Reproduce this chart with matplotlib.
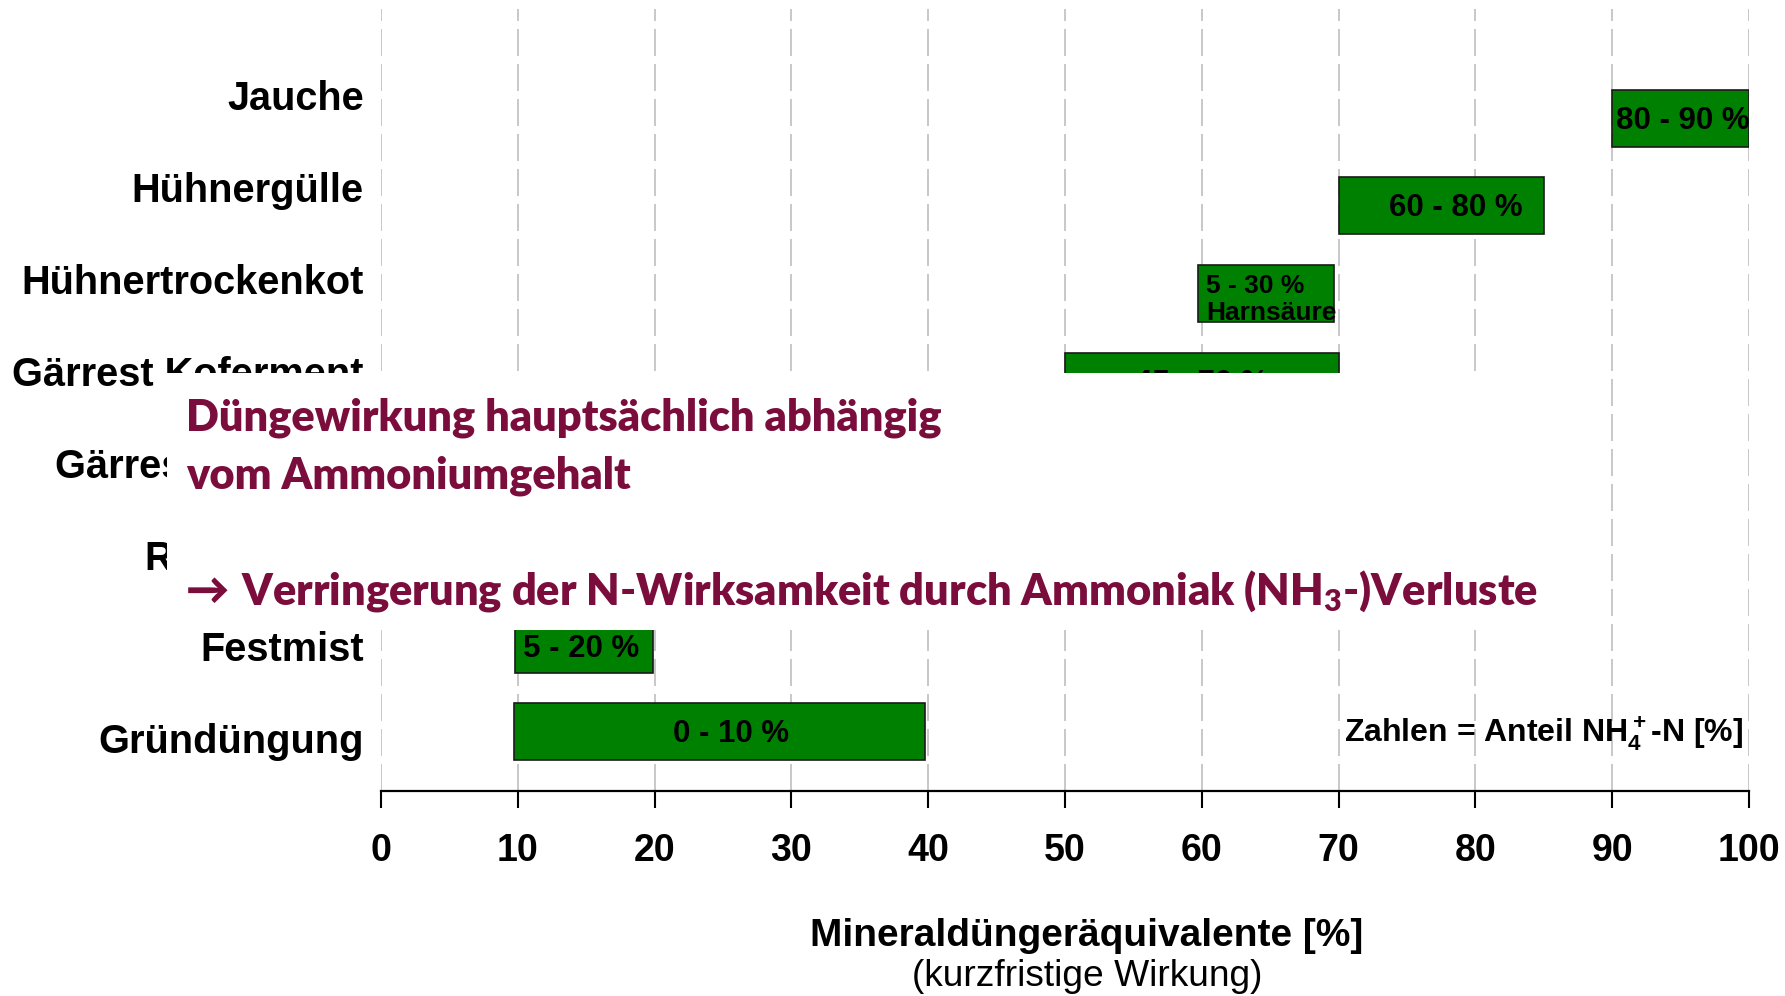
import matplotlib.pyplot as plt
import numpy as np
from matplotlib.patches import Rectangle

plt.rcParams["font.family"] = ["Liberation Sans", "DejaVu Sans"]
plt.rcParams["mathtext.default"] = "regular"

# categories top to bottom
categories = [
    "Jauche",
    "Hühnergülle",
    "Hühnertrockenkot",
    "Gärrest Koferment",
    "Gärrest NawaRo",
    "Rindergülle",
    "Festmist",
    "Gründüngung",
]
# Mineraldüngeräquivalente range [%] (hidden rows unknown)
bar_start = [90, 70, 59.7, 50, np.nan, np.nan, 9.8, 9.7]
bar_end = [100, 85, 69.7, 70, np.nan, np.nan, 19.9, 39.8]
# share of NH4+-N written into the bars
bar_labels = ["80 - 90 %", "60 - 80 %", "5 - 30 %\nHarnsäure", "45 - 70 %", "", "", "5 - 20 %", "0 - 10 %"]
x_ticks = [0, 10, 20, 30, 40, 50, 60, 70, 80, 90, 100]

RED = "#7b0d3c"
GREEN = "#008000"

fig = plt.figure(figsize=(17.85, 9.96), dpi=100)
ax = fig.add_axes([0.2134, 0.2058, 0.7664, 0.7852])

y = np.arange(len(categories))
start = np.array(bar_start)
end = np.array(bar_end)
ok = ~np.isnan(start)
ax.barh(y[ok], end[ok] - start[ok], left=start[ok], height=0.65,
        color=GREEN, edgecolor="#1a1a1a", linewidth=1.2, zorder=2)

# label placement inside the bars (as typed on the slide)
shift = {0: 0.2, 1: 1.05, 3: 0.0, 7: 0.85}
for i, txt in enumerate(bar_labels):
    if not txt:
        continue
    if "\n" in txt:
        ax.text(start[i] + 0.6, i + 0.07, txt, ha="left", va="center",
                fontsize=19, fontweight="bold", linespacing=1.15, zorder=3)
    elif i == 6:
        ax.text(start[i] + 0.6, i + 0.15, txt, ha="left", va="baseline",
                fontsize=22.5, fontweight="bold", zorder=3)
    else:
        ax.text((start[i] + end[i]) / 2 + shift.get(i, 0), i + 0.12, txt,
                ha="center", va="baseline", fontsize=22.5, fontweight="bold", zorder=3)

# category names, slightly off the bar centres as in the slide
for i, name in enumerate(categories):
    ax.text(-0.0124, -0.091 + 1.048 * i, name, transform=ax.get_yaxis_transform(),
            ha="right", va="baseline", fontsize=28.6, fontweight="bold", clip_on=False)

ax.set_xlim(0, 100)
ax.set_ylim(7.675, -1.247)
ax.set_xticks(x_ticks)
ax.set_xticklabels([str(t) for t in x_ticks], fontsize=27, fontweight="bold")
ax.set_yticks([])
ax.tick_params(axis="x", direction="out", length=12, width=1.5, pad=18)
for s in ["top", "left", "right"]:
    ax.spines[s].set_visible(False)
ax.spines["bottom"].set_linewidth(1.6)
ax.set_axisbelow(True)
ax.xaxis.grid(True, color="#c8c8c8", linewidth=1.4, linestyle=(0, (13.9, 4.1)))

ax.text(99.6, 7.0 + 0.12, "Zahlen = Anteil NH$_4^+$-N [%]", ha="right", va="baseline",
        fontsize=23, fontweight="bold", zorder=3)

fig.text(0.609, 0.0502, "Mineraldüngeräquivalente [%]", ha="center", va="baseline",
         fontsize=28, fontweight="bold")
fig.text(0.609, 0.0100, "(kurzfristige Wirkung)", ha="center", va="baseline", fontsize=26.7)

# white text box laid over the middle of the chart
fig.patches.append(Rectangle((0.0936, 0.3675), 0.7804, 0.258, transform=fig.transFigure,
                             facecolor="white", edgecolor="none", zorder=5))

red_kw = dict(color=RED, fontweight="heavy", fontsize=31.2, family=["Lato", "DejaVu Sans"],
              ha="left", va="baseline", zorder=6)
fig.text(0.104, 1 - 430 / 996, "Düngewirkung hauptsächlich abhängig", **red_kw)
fig.text(0.104, 1 - 488 / 996, "vom Ammoniumgehalt", **red_kw)
fig.text(0.104, 1 - 604 / 996, "→", **red_kw)
fig.text(0.1348, 1 - 604 / 996, "Verringerung der N-Wirksamkeit durch Ammoniak (NH$_3$-)Verluste", **red_kw)

fig.savefig("out.png", dpi=100)
